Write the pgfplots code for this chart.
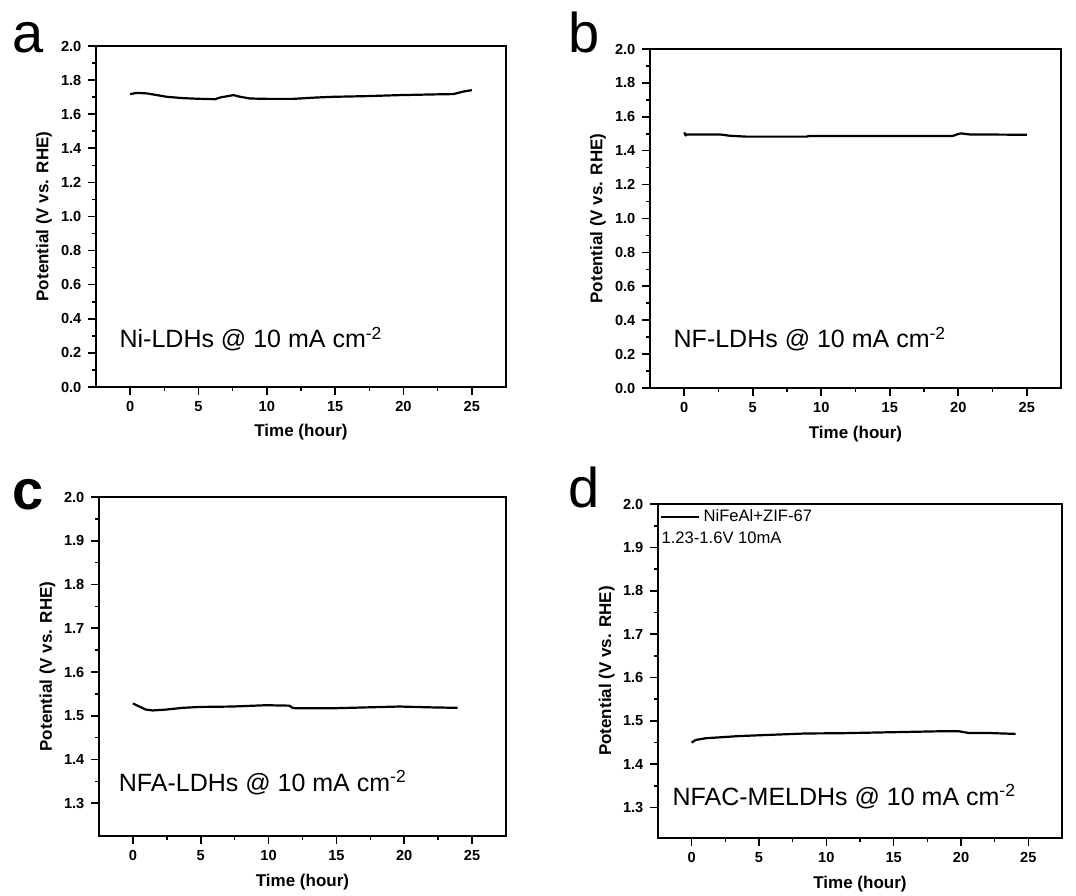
\documentclass[border=0pt]{standalone}
\usepackage{fontspec}
\setmainfont{Liberation Sans}
\usepackage{pgfplots}
\pgfplotsset{compat=1.18}
\pgfplotsset{
 panel/.style={
  scale only axis,
  axis line style={line width=1pt},
  every tick/.style={black, line width=0.8pt},
  major tick length=3.8pt, minor tick length=1.8pt,
  tick align=outside, xtick pos=left, ytick pos=left,
  xmin=-2.5, xmax=27.5,
  xtick={0,5,10,15,20,25}, minor x tick num=1,
  /pgf/number format/assume math mode=true,
  tick label style={font=\fontsize{7.3}{8}\selectfont\bfseries},
  yticklabel style={/pgf/number format/.cd, fixed, fixed zerofill, precision=1},
  xlabel={Time (hour)}, ylabel={Potential (V vs. RHE)},
  label style={font=\fontsize{8.5}{10}\selectfont\bfseries},
  xlabel style={at={(axis description cs:0.5,0)}, anchor=base, yshift=-25pt},
  ylabel style={at={(axis description cs:-0.116,0.5)}, anchor=base},
 },
 dataline/.style={black, line width=1.1pt, line join=round},
}
\tikzset{ann/.style={anchor=base west, inner sep=0pt, font=\fontsize{12.5}{14}\selectfont}}
\begin{document}
\begin{tikzpicture}
\useasboundingbox (0,0) rectangle (538pt,447.5pt);
% ---------------- a ----------------
\begin{axis}[panel, at={(48pt,254pt)}, anchor=south west, width=205pt, height=170.5pt,
  ymin=0, ymax=2, ytick={0,0.2,0.4,0.6,0.8,1.0,1.2,1.4,1.6,1.8,2.0}, minor y tick num=1]
\addplot[dataline] coordinates {
(0,1.718) (0.49,1.725) (1.22,1.722) (2.68,1.702) (3.9,1.694) (5.12,1.690) (6.22,1.688)
(6.59,1.698) (7.56,1.712) (8.05,1.702) (8.78,1.692) (10,1.690) (11.95,1.690) (13.66,1.698)
(14.88,1.702) (17.32,1.706) (19.76,1.712) (22.2,1.716) (23.66,1.718) (24.39,1.733) (25,1.741)};
\node[ann] at (axis cs:-0.8,0.23) {Ni-LDHs @ 10 mA cm\textsuperscript{-2}};
\end{axis}
% ---------------- b ----------------
\begin{axis}[panel, at={(325pt,253.5pt)}, anchor=south west, width=205.5pt, height=169.5pt,
  ymin=0, ymax=2, ytick={0,0.2,0.4,0.6,0.8,1.0,1.2,1.4,1.6,1.8,2.0}, minor y tick num=1]
\addplot[dataline] coordinates {
(0,1.508) (0.1,1.490) (0.17,1.496) (2.6,1.496) (3.33,1.488) (4.54,1.483) (8.92,1.483)
(9.16,1.487) (19.6,1.487) (19.97,1.498) (20.21,1.502) (20.82,1.496) (25,1.494)};
\node[ann] at (axis cs:-0.8,0.236) {NF-LDHs @ 10 mA cm\textsuperscript{-2}};
\end{axis}
% ---------------- c ----------------
\begin{axis}[panel, at={(49.5pt,29.5pt)}, anchor=south west, width=203.5pt, height=169.5pt,
  ymin=1.225, ymax=2, ytick={1.3,1.4,1.5,1.6,1.7,1.8,1.9,2.0}, minor y tick num=1]
\addplot[dataline] coordinates {
(0,1.528) (0.47,1.521) (0.96,1.514) (1.45,1.512) (2.43,1.514) (3.66,1.518) (4.89,1.520)
(7.35,1.521) (9.81,1.524) (11.53,1.523) (11.77,1.518) (12.02,1.517) (14.72,1.517)
(17.18,1.519) (19.64,1.521) (22.1,1.519) (23.94,1.518)};
\node[ann] at (axis cs:-1.06,1.3275) {NFA-LDHs @ 10 mA cm\textsuperscript{-2}};
\end{axis}
% ---------------- d ----------------
\begin{axis}[panel, at={(329pt,28.5pt)}, anchor=south west, width=202pt, height=167pt,
  ymin=1.23, ymax=2, ytick={1.3,1.4,1.5,1.6,1.7,1.8,1.9,2.0}, minor y tick num=1,
  legend style={at={(rel axis cs:0.005,0.995)}, anchor=north west, draw=none, fill=none,
    font=\fontsize{8.3}{9}\selectfont, inner sep=0pt, outer sep=0pt},
  legend image code/.code={\draw[#1, line width=0.8pt] (0pt,0pt) -- (19pt,0pt);}]
\addplot[dataline] coordinates {
(0,1.450) (0.3,1.456) (1.04,1.460) (3.51,1.465) (5.99,1.468) (8.47,1.471) (10.94,1.4715)
(13.42,1.473) (15.89,1.4745) (18.37,1.476) (19.85,1.476) (20.59,1.472) (22.08,1.472) (24.06,1.470)};
\addlegendentry{NiFeAl+ZIF-67}
\node[anchor=base west, inner sep=0pt, font=\fontsize{8.3}{9}\selectfont] at (rel axis cs:0.008,0.881) {1.23-1.6V 10mA};
\node[ann] at (axis cs:-1.44,1.305) {NFAC-MELDHs @ 10 mA cm\textsuperscript{-2}};
\end{axis}
% panel letters
\node[anchor=base west, inner sep=0pt, font=\fontsize{28}{30}\selectfont] at (6pt,421pt) {a};
\node[anchor=base west, inner sep=0pt, font=\fontsize{28}{30}\selectfont] at (284pt,421pt) {b};
\node[anchor=base west, inner sep=0pt, font=\fontsize{28}{30}\selectfont\bfseries] at (6pt,192.5pt) {c};
\node[anchor=base west, inner sep=0pt, font=\fontsize{28}{30}\selectfont] at (284pt,193.5pt) {d};
\end{tikzpicture}
\end{document}
